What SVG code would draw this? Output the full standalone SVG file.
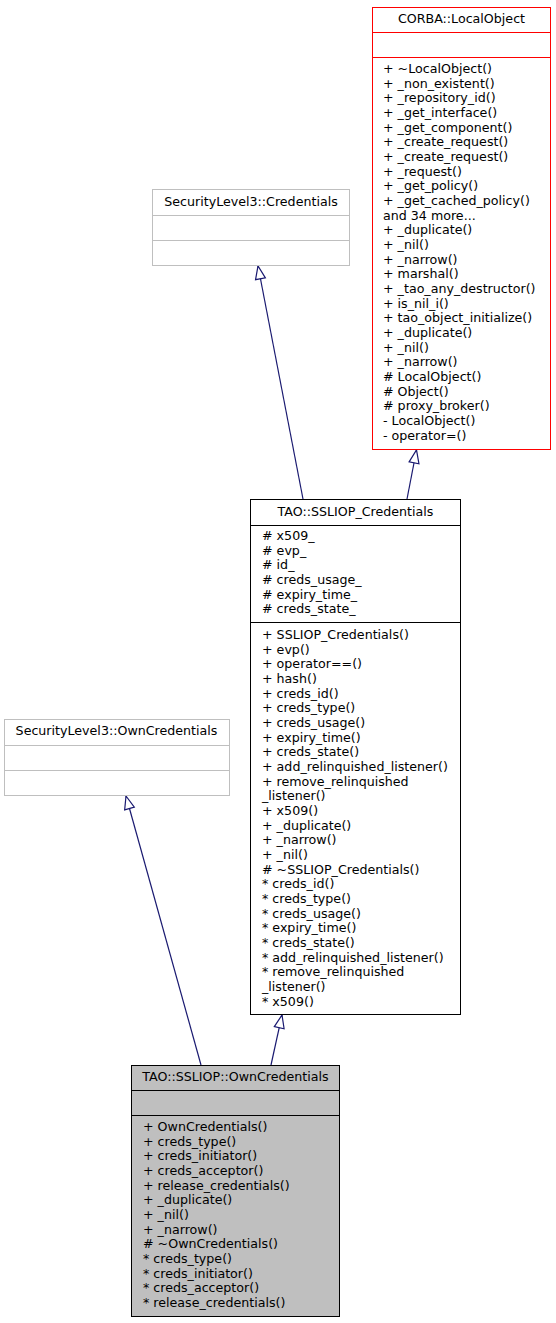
<svg xmlns="http://www.w3.org/2000/svg" width="556" height="1323" viewBox="0 0 556 1323">
<style>
text{font-family:"DejaVu Sans",sans-serif;font-size:12.65px;fill:#000}
.t{text-anchor:middle}
.box{fill:#fff;stroke:#000;stroke-width:1}
.red{stroke:#ff0000}
.gray{stroke:#bfbfbf}
.cur{fill:#bfbfbf}
.div{stroke:#000;stroke-width:1}
.edge{fill:none;stroke:#191970;stroke-width:1.2;marker-end:url(#arr)}
</style>
<defs>
<marker id="arr" markerWidth="14" markerHeight="12" refX="13" refY="6" orient="auto" markerUnits="userSpaceOnUse" overflow="visible">
<path d="M0,1 L13,6 L0,11 Z" fill="#fff" stroke="#191970" stroke-width="1.2"/>
</marker>
</defs>
<g id="edges">
<path class="edge" d="M303,499 L258,266"/>
<path class="edge" d="M407,499 L416.5,450"/>
<path class="edge" d="M201,1065 L126,796"/>
<path class="edge" d="M271,1065 L282,1015"/>
</g>
<g id="LocalObject">
<rect class="box red" x="372.5" y="7.5" width="178" height="442"/>
<path style="stroke:#ff0000" d="M372.5,32.5H550.5M372.5,57.5H550.5"/>
<text class="t" x="461.5" y="23">CORBA::LocalObject</text>
<text x="383" y="73">+ ~LocalObject()</text>
<text x="383" y="87.67">+ _non_existent()</text>
<text x="383" y="102.33">+ _repository_id()</text>
<text x="383" y="117">+ _get_interface()</text>
<text x="383" y="131.67">+ _get_component()</text>
<text x="383" y="146.33">+ _create_request()</text>
<text x="383" y="161">+ _create_request()</text>
<text x="383" y="175.67">+ _request()</text>
<text x="383" y="190.33">+ _get_policy()</text>
<text x="383" y="205">+ _get_cached_policy()</text>
<text x="383" y="219.67">and 34 more...</text>
<text x="383" y="234.33">+ _duplicate()</text>
<text x="383" y="249">+ _nil()</text>
<text x="383" y="263.67">+ _narrow()</text>
<text x="383" y="278.33">+ marshal()</text>
<text x="383" y="293">+ _tao_any_destructor()</text>
<text x="383" y="307.67">+ is_nil_i()</text>
<text x="383" y="322.33">+ tao_object_initialize()</text>
<text x="383" y="337">+ _duplicate()</text>
<text x="383" y="351.67">+ _nil()</text>
<text x="383" y="366.33">+ _narrow()</text>
<text x="383" y="381"># LocalObject()</text>
<text x="383" y="395.67"># Object()</text>
<text x="383" y="410.33"># proxy_broker()</text>
<text x="383" y="425">- LocalObject()</text>
<text x="383" y="439.67">- operator=()</text>
</g>
<g id="SL3Credentials">
<rect class="box gray" x="152.5" y="189.5" width="197" height="76"/>
<path style="stroke:#bfbfbf" d="M152.5,215.5H349.5M152.5,240.5H349.5"/>
<text class="t" x="251" y="206">SecurityLevel3::Credentials</text>
</g>
<g id="SSLIOPCredentials">
<rect class="box" x="250.5" y="499.5" width="210" height="515"/>
<path class="div" d="M250.5,525.5H460.5M250.5,622.5H460.5"/>
<text class="t" x="355.5" y="515.5">TAO::SSLIOP_Credentials</text>
<text x="262" y="540"># x509_</text>
<text x="262" y="554.67"># evp_</text>
<text x="262" y="569.33"># id_</text>
<text x="262" y="584"># creds_usage_</text>
<text x="262" y="598.67"># expiry_time_</text>
<text x="262" y="613.33"># creds_state_</text>
<text x="262" y="639">+ SSLIOP_Credentials()</text>
<text x="262" y="653.67">+ evp()</text>
<text x="262" y="668.33">+ operator==()</text>
<text x="262" y="683">+ hash()</text>
<text x="262" y="697.67">+ creds_id()</text>
<text x="262" y="712.33">+ creds_type()</text>
<text x="262" y="727">+ creds_usage()</text>
<text x="262" y="741.67">+ expiry_time()</text>
<text x="262" y="756.33">+ creds_state()</text>
<text x="262" y="771">+ add_relinquished_listener()</text>
<text x="262" y="785.67">+ remove_relinquished</text>
<text x="262" y="800.33">_listener()</text>
<text x="262" y="815">+ x509()</text>
<text x="262" y="829.67">+ _duplicate()</text>
<text x="262" y="844.33">+ _narrow()</text>
<text x="262" y="859">+ _nil()</text>
<text x="262" y="873.67"># ~SSLIOP_Credentials()</text>
<text x="262" y="888.33">* creds_id()</text>
<text x="262" y="903">* creds_type()</text>
<text x="262" y="917.67">* creds_usage()</text>
<text x="262" y="932.33">* expiry_time()</text>
<text x="262" y="947">* creds_state()</text>
<text x="262" y="961.67">* add_relinquished_listener()</text>
<text x="262" y="976.33">* remove_relinquished</text>
<text x="262" y="991">_listener()</text>
<text x="262" y="1005.67">* x509()</text>
</g>
<g id="SL3OwnCredentials">
<rect class="box gray" x="4.5" y="719.5" width="225" height="76"/>
<path style="stroke:#bfbfbf" d="M4.5,745.5H229.5M4.5,770.5H229.5"/>
<text class="t" x="116.5" y="735">SecurityLevel3::OwnCredentials</text>
</g>
<g id="SSLIOPOwnCredentials">
<rect class="box cur" x="131.5" y="1065.5" width="208" height="251"/>
<path class="div" d="M131.5,1090.5H339.5M131.5,1115.5H339.5"/>
<text class="t" x="235.5" y="1081">TAO::SSLIOP::OwnCredentials</text>
<text x="143" y="1131">+ OwnCredentials()</text>
<text x="143" y="1145.67">+ creds_type()</text>
<text x="143" y="1160.33">+ creds_initiator()</text>
<text x="143" y="1175">+ creds_acceptor()</text>
<text x="143" y="1189.67">+ release_credentials()</text>
<text x="143" y="1204.33">+ _duplicate()</text>
<text x="143" y="1219">+ _nil()</text>
<text x="143" y="1233.67">+ _narrow()</text>
<text x="143" y="1248.33"># ~OwnCredentials()</text>
<text x="143" y="1263">* creds_type()</text>
<text x="143" y="1277.67">* creds_initiator()</text>
<text x="143" y="1292.33">* creds_acceptor()</text>
<text x="143" y="1307">* release_credentials()</text>
</g>
</svg>
